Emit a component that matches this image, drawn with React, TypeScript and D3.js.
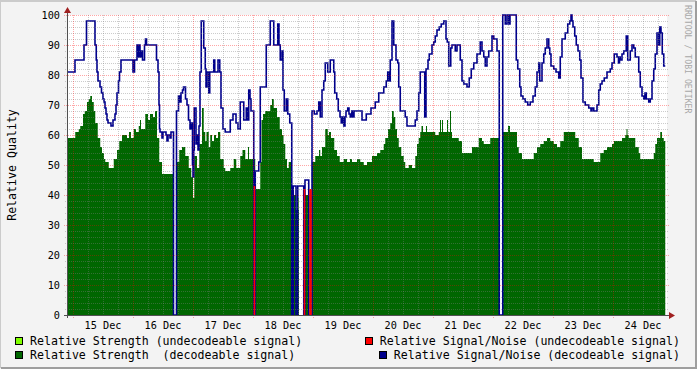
import { useEffect, useRef } from "react";
import * as d3 from "d3";

// times are hours since 15 Dec 00:00, values are relative quality (%)
const snrDecodable: [number, number][] = [
  [-2.4, 81], [0.8, 85], [4.4, 90], [5.4, 98], [8.8, 90], [9.3, 85], [9.6, 81], [10, 78], [10.8, 76], [11.4, 74],
  [12, 72], [12.4, 71], [12.8, 69], [13.2, 67], [13.6, 65], [14, 64], [15.2, 63], [16, 65], [16.8, 67], [17.2, 70],
  [17.6, 74], [18.2, 78], [18.6, 81], [19.2, 85], [24, 81], [24.6, 85], [25.6, 90], [26, 86], [26.4, 90], [26.8, 86],
  [27.2, 88], [27.8, 85], [28.6, 90], [29, 92], [29.4, 90], [33.4, 85], [34, 81], [34.4, 70], [34.6, 62], [34.8, 61],
  [35.6, 59], [36, 61], [37.2, 60], [37.6, 58], [38, 60], [38.8, 59], [39.2, 61], [40.2, 0], [41.4, 68], [42.2, 73],
  [42.8, 71], [43.2, 74], [43.8, 75], [44.2, 76], [45, 72], [45.6, 70], [46.2, 65], [46.8, 62], [47.4, 64], [47.8, 50],
  [48, 46], [48.3, 55], [48.5, 69], [49.2, 57], [49.6, 60], [50, 55], [50.4, 63], [50.8, 81], [51.3, 98], [52.3, 89],
  [52.9, 82], [53.2, 76], [53.6, 81], [54.3, 74], [54.7, 81], [56.3, 85], [56.7, 81], [58, 85], [58.7, 81], [59.2, 69],
  [60, 62], [60.9, 61], [62.9, 65], [64, 67], [65.2, 64], [66, 62], [66.9, 71], [68.3, 65], [69.3, 69], [69.9, 65],
  [70.3, 75], [70.8, 72], [71.2, 68], [72.3, 0], [72.9, 48], [74.3, 51], [74.9, 76], [77.3, 90], [78.9, 98], [80.3, 90],
  [81.9, 97], [82.4, 90], [82.9, 85], [83.6, 88], [84, 75], [84.5, 68], [85.3, 72], [85.9, 67], [86.7, 64], [87.5, 0],
  [88.1, 43], [89.2, 0], [89.9, 43], [92.3, 0], [92.8, 45], [94.3, 0], [95.6, 68], [96.5, 67], [97.6, 68], [98.3, 71],
  [98.9, 66], [99.6, 75], [100.3, 78], [100.9, 84], [101.9, 81], [102.9, 85], [104.3, 81], [104.7, 74], [105.5, 72], [106.1, 68],
  [106.8, 66], [107.3, 64], [107.7, 66], [108.3, 63], [108.8, 66], [109.2, 68], [109.9, 69], [110.4, 67], [110.9, 66], [111.5, 68],
  [112, 66], [112.4, 68], [115.6, 65], [117.3, 67], [119.2, 69], [120.9, 71], [122.3, 74], [124.3, 76], [125.3, 78], [125.9, 81],
  [126.3, 78], [126.9, 85], [127.6, 98], [128.3, 90], [129.2, 85], [129.9, 84], [130.3, 76], [130.9, 68], [132.9, 66], [133.6, 63],
  [136.9, 65], [137.6, 68], [138.3, 74], [138.9, 81], [140.7, 66], [141.2, 82], [142, 85], [142.5, 87], [143.6, 90], [144.3, 91],
  [144.9, 93], [145.6, 95], [146.5, 96], [147.3, 97], [148.3, 98], [149.2, 92], [149.7, 91], [150.3, 83], [151.1, 89], [151.6, 90],
  [152.9, 88], [153.6, 90], [154.9, 85], [155.6, 78], [156.3, 77], [157.6, 76], [158.5, 79], [159.3, 82], [160.3, 84], [161.6, 87],
  [162.9, 91], [163.6, 88], [164.3, 86], [164.9, 83], [165.6, 86], [166.3, 88], [167.6, 93], [168.3, 92], [169.6, 88], [170.5, 0],
  [171.9, 100], [172.9, 97], [173.6, 100], [174.3, 97], [174.8, 100], [177.3, 85], [177.9, 82], [178.7, 76], [179.2, 73], [180, 72],
  [180.9, 71], [181.9, 70], [182.9, 71], [184, 73], [184.9, 76], [185.6, 81], [186.3, 84], [186.7, 78], [187.6, 84], [188.3, 87],
  [188.9, 89], [189.6, 92], [190.3, 89], [190.7, 87], [191.2, 83], [192.3, 82], [193.2, 81], [194.3, 79], [194.9, 86], [195.6, 92],
  [196.9, 94], [197.9, 97], [198.7, 98], [199.2, 100], [199.6, 98], [200, 96], [200.7, 93], [201.3, 90], [202, 88], [202.7, 85],
  [203.2, 79], [204, 71], [204.9, 70], [206.3, 69], [207.2, 68], [207.6, 69], [208.3, 68], [209.6, 70], [210.3, 75], [210.9, 77],
  [211.6, 78], [212.5, 79], [213.6, 81], [214.9, 82], [215.6, 84], [216.5, 87], [217.6, 86], [218.2, 84], [218.6, 86], [218.9, 85],
  [219.6, 87], [220.3, 88], [221.3, 93], [221.9, 85], [222.9, 88], [223.6, 90], [224.3, 89], [224.9, 86], [226.3, 81], [226.9, 76],
  [227.6, 73], [228.3, 72], [228.8, 74], [229.3, 72], [230.3, 71], [230.9, 72], [231.6, 78], [232.3, 82], [232.9, 87], [233.6, 94],
  [234.3, 90], [234.7, 96], [235.2, 94], [235.7, 87], [236.3, 83],
];

const strengthDecodable: [number, number][] = [
  [-2.4, 59], [0.9, 61], [2.3, 62], [2.9, 63], [4, 67], [4.7, 68], [5.6, 71], [6.3, 72], [6.9, 73], [7.6, 71],
  [8.3, 68], [8.9, 64], [9.9, 59], [10.9, 56], [11.6, 54], [12.4, 52], [12.9, 51], [14.3, 49], [16.3, 52], [17.6, 55],
  [18.5, 58], [19.6, 60], [21.6, 59], [22.4, 61], [23.2, 59], [24.3, 62], [25.2, 61], [26.3, 63], [26.8, 65], [27.2, 62],
  [28.9, 67], [30, 65], [30.8, 67], [32, 66], [32.8, 68], [33.6, 59], [34.5, 51], [35.6, 47], [40.3, 0], [41.6, 51],
  [42.5, 55], [43.6, 56], [44.9, 53], [46.3, 49], [47.3, 46], [48, 39], [48.5, 53], [49.6, 49], [50.5, 57], [51.6, 69],
  [52.3, 61], [52.9, 58], [53.4, 61], [54.3, 56], [54.9, 60], [55.6, 58], [56.4, 60], [57.2, 59], [58, 61], [58.9, 52],
  [60.3, 49], [60.9, 48], [62.9, 49], [64.3, 52], [65.3, 49], [66.9, 53], [67.8, 55], [68.9, 52], [70, 56], [70.4, 52],
  [72.9, 42], [74.9, 51], [75.4, 65], [76, 67], [76.9, 68], [78.9, 70], [79.6, 72], [80.3, 69], [81.6, 66], [82.7, 62],
  [83.6, 60], [84.2, 57], [84.9, 52], [85.6, 49], [86.3, 51], [87.5, 0], [88.1, 40], [89.2, 35], [90.4, 0], [92.8, 40],
  [94.3, 0], [95.6, 51], [96.9, 53], [98.4, 55], [98.9, 53], [99.6, 56], [100.9, 62], [101.9, 60], [102.4, 61], [103.2, 59],
  [104.5, 55], [105.6, 53], [106.7, 51], [108.3, 52], [109.6, 51], [110.8, 52], [111.6, 51], [113.6, 52], [114.9, 51], [116.3, 50],
  [117.6, 51], [119.6, 53], [121.6, 54], [122.9, 55], [124.3, 57], [124.9, 59], [126, 62], [126.9, 64], [127.6, 68], [128.3, 66],
  [128.9, 62], [129.6, 59], [130.3, 56], [131.3, 53], [132.3, 51], [132.9, 49], [134.3, 50], [135.6, 49], [136.9, 53], [137.6, 57],
  [138.3, 59], [138.9, 61], [139.4, 63], [140, 61], [141.2, 63], [141.6, 61], [144.9, 60], [146.3, 61], [146.8, 65], [147.2, 61],
  [147.6, 65], [148, 61], [149.6, 65], [150, 61], [150.8, 68], [151.2, 61], [151.6, 59], [154.3, 58], [155.6, 54], [159.6, 56],
  [162.3, 59], [163.6, 58], [164.3, 57], [166.9, 59], [170.5, 0], [171.9, 61], [174, 63], [174.8, 61], [177.6, 56], [178.3, 54],
  [179.6, 52], [184.3, 54], [185.6, 56], [186.9, 57], [188.3, 58], [189.6, 59], [190.9, 58], [192.3, 57], [193.6, 56], [194.9, 58],
  [196.3, 61], [200.9, 59], [202.3, 56], [203.6, 52], [208.3, 51], [210.9, 54], [212.3, 55], [213.6, 56], [215.6, 57], [216.4, 58],
  [219.6, 59], [220.9, 60], [221.4, 62], [221.8, 60], [222.3, 59], [224.9, 56], [226.3, 54], [226.9, 52], [232.3, 54], [232.9, 57],
  [233.6, 59], [234.9, 61], [235.6, 59], [236.3, 58],
];

// [start hour, end hour, value] for the short undecodeable stretches
const snrUndecodable: [number, number, number][] = [
  [72.3, 72.9, 43], [92.3, 92.8, 42], [94.5, 95.5, 42],
];
const strengthUndecodable: [number, number, number][] = [
  [72.3, 72.9, 42], [89.9, 90.4, 39], [92.3, 92.8, 40], [94.5, 95.5, 40],
];

const dataEnd = 236.9;
const yTicks = [0, 10, 20, 30, 40, 50, 60, 70, 80, 90, 100];
const dayLabels = ["15 Dec", "16 Dec", "17 Dec", "18 Dec", "19 Dec", "20 Dec", "21 Dec", "22 Dec", "23 Dec", "24 Dec"];

const W = 697;
const H = 369;
const FONT = "'DejaVu Sans Mono', monospace";

const App = () => {
  const svgRef = useRef<SVGSVGElement>(null);

  useEffect(() => {
    const base = Date.UTC(2009, 11, 15);
    const toDate = (h: number) => new Date(base + h * 3600e3);
    const left = 67, right = 667, top = 15, bottom = 315;

    const x = d3.scaleUtc().domain([toDate(-2.4), toDate(237.6)]).range([left, right]);
    const y = d3.scaleLinear().domain([0, 100]).range([bottom, top]).clamp(true);

    const svg = d3.select(svgRef.current);
    svg.selectAll("*").remove();

    // background + 3d frame
    svg.append("rect").attr("width", W).attr("height", H).attr("fill", "#f3f3f3");
    svg.append("path").attr("d", `M0,${H - 1}V1H${W - 1}`).attr("stroke", "#cbcbcb").attr("stroke-width", 2).attr("fill", "none");
    svg.append("path").attr("d", `M1,${H - 1}H${W - 1}V1`).attr("stroke", "#9e9e9e").attr("stroke-width", 2).attr("fill", "none");

    svg.append("rect").attr("x", left).attr("y", top).attr("width", right - left).attr("height", bottom - top).attr("fill", "#fff");

    const withEnd = (s: [number, number][]) => [...s, [dataEnd, s[s.length - 1][1]] as [number, number]];

    // undecodeable strength (drawn first, under the decodeable area)
    svg.append("g").selectAll("rect").data(strengthUndecodable).join("rect")
      .attr("x", (d) => x(toDate(d[0])))
      .attr("width", (d) => x(toDate(d[1])) - x(toDate(d[0])))
      .attr("y", (d) => y(d[2]))
      .attr("height", (d) => y(0) - y(d[2]))
      .attr("fill", "#80ff00");

    const area = d3.area<[number, number]>()
      .curve(d3.curveStepAfter)
      .x((d) => x(toDate(d[0])))
      .y0(y(0))
      .y1((d) => y(d[1]));
    svg.append("path").attr("d", area(withEnd(strengthDecodable))).attr("fill", "#006600");

    const line = d3.line<[number, number]>()
      .curve(d3.curveStepAfter)
      .x((d) => x(toDate(d[0])))
      .y((d) => y(d[1]));
    svg.append("path").attr("d", line(withEnd(snrDecodable)))
      .attr("fill", "none").attr("stroke", "#00008c").attr("stroke-width", 1.6);

    // undecodeable S/N on top of the decodeable line
    svg.append("g").selectAll("rect").data(snrUndecodable).join("rect")
      .attr("x", (d) => x(toDate(d[0])))
      .attr("width", (d) => Math.max(1.5, x(toDate(d[1])) - x(toDate(d[0]))))
      .attr("y", (d) => y(d[2]))
      .attr("height", (d) => y(0) - y(d[2]))
      .attr("fill", "#ff0000");

    // grid
    const grid = svg.append("g").attr("shape-rendering", "crispEdges").attr("stroke-dasharray", "1,1");
    const [t0, t1] = x.domain();
    const minorX = d3.utcHour.every(6)!.range(t0, t1).filter((d) => d.getUTCHours() !== 0);
    const majorX = d3.utcDay.range(t0, t1);
    const minorY = d3.range(2, 100, 2).filter((v) => v % 10 !== 0);
    const majorY = yTicks.filter((v) => v > 0);

    grid.selectAll(".mx").data(minorX).join("line").attr("class", "mx")
      .attr("x1", (d) => Math.round(x(d)) + 0.5).attr("x2", (d) => Math.round(x(d)) + 0.5)
      .attr("y1", top).attr("y2", bottom + 2).attr("stroke", "rgba(128,128,128,0.4)");
    grid.selectAll(".my").data(minorY).join("line").attr("class", "my")
      .attr("x1", left - 2).attr("x2", right + 2)
      .attr("y1", (d) => Math.round(y(d)) + 0.5).attr("y2", (d) => Math.round(y(d)) + 0.5)
      .attr("stroke", "rgba(128,128,128,0.4)");
    grid.selectAll(".Mx").data(majorX).join("line").attr("class", "Mx")
      .attr("x1", (d) => Math.round(x(d)) + 0.5).attr("x2", (d) => Math.round(x(d)) + 0.5)
      .attr("y1", top).attr("y2", bottom + 3).attr("stroke", "rgba(255,0,0,0.35)");
    grid.selectAll(".My").data(majorY).join("line").attr("class", "My")
      .attr("x1", left - 3).attr("x2", right + 3)
      .attr("y1", (d) => Math.round(y(d)) + 0.5).attr("y2", (d) => Math.round(y(d)) + 0.5)
      .attr("stroke", "rgba(255,0,0,0.35)");

    // axes with arrows
    const axis = svg.append("g").attr("shape-rendering", "crispEdges");
    axis.append("line").attr("x1", left - 3).attr("x2", right + 3).attr("y1", bottom + 0.5).attr("y2", bottom + 0.5).attr("stroke", "#505050");
    axis.append("line").attr("x1", left + 0.5).attr("x2", left + 0.5).attr("y1", bottom + 3).attr("y2", top - 3).attr("stroke", "#505050");
    svg.append("path").attr("d", `M${left - 3},${top - 2}L${left + 0.5},${top - 8}L${left + 4},${top - 2}Z`).attr("fill", "#a02020");
    svg.append("path").attr("d", `M${right + 2},${bottom - 3}L${right + 8},${bottom + 0.5}L${right + 2},${bottom + 4}Z`).attr("fill", "#a02020");

    // tick labels
    svg.append("g").selectAll("text").data(yTicks).join("text")
      .attr("x", 60).attr("y", (d) => y(d) + 4)
      .attr("text-anchor", "end").attr("font-family", FONT).attr("font-size", 10.2).attr("fill", "#000")
      .text((d) => d);
    svg.append("g").selectAll("text").data(dayLabels).join("text")
      .attr("x", (_, i) => x(toDate(12 + 24 * i)))
      .attr("y", 329)
      .attr("text-anchor", "middle").attr("font-family", FONT).attr("font-size", 10.2).attr("fill", "#000")
      .text((d) => d);

    svg.append("text").attr("transform", `translate(16,${(top + bottom) / 2}) rotate(-90)`)
      .attr("text-anchor", "middle").attr("font-family", FONT).attr("font-size", 11.6).attr("fill", "#000")
      .text("Relative Quality");

    svg.append("text").attr("transform", "translate(684.5,5) rotate(90)")
      .attr("font-family", FONT).attr("font-size", 8.2).attr("fill", "#a8a8a8")
      .text("RRDTOOL / TOBI OETIKER");

    // legend
    const legend = [
      { label: "Relative Strength (undecodeable signal)", color: "#80ff00", sx: 15, tx: 30, row: 0, anchor: "start" },
      { label: "Relative Strength  (decodeable signal)", color: "#006600", sx: 15, tx: 30, row: 1, anchor: "start" },
      { label: "Relative Signal/Noise (undecodeable signal)", color: "#ff0000", sx: 365, tx: 680, row: 0, anchor: "end" },
      { label: "Relative Signal/Noise (decodeable signal)", color: "#00008c", sx: 379, tx: 680, row: 1, anchor: "end" },
    ];
    const lg = svg.append("g").selectAll("g").data(legend).join("g");
    lg.append("rect")
      .attr("x", (d) => d.sx + 0.5).attr("y", (d) => 337.5 + d.row * 14)
      .attr("width", 7).attr("height", 7)
      .attr("fill", (d) => d.color).attr("stroke", "#000").attr("shape-rendering", "crispEdges");
    lg.append("text")
      .attr("x", (d) => d.tx).attr("y", (d) => 345 + d.row * 14)
      .attr("text-anchor", (d) => d.anchor)
      .attr("font-family", FONT).attr("font-size", 11.6).attr("fill", "#000")
      .style("white-space", "pre")
      .text((d) => d.label);
  }, []);

  return <svg ref={svgRef} width={W} height={H} style={{ position: "absolute", left: 0, top: 0 }} />;
};

export default App;
